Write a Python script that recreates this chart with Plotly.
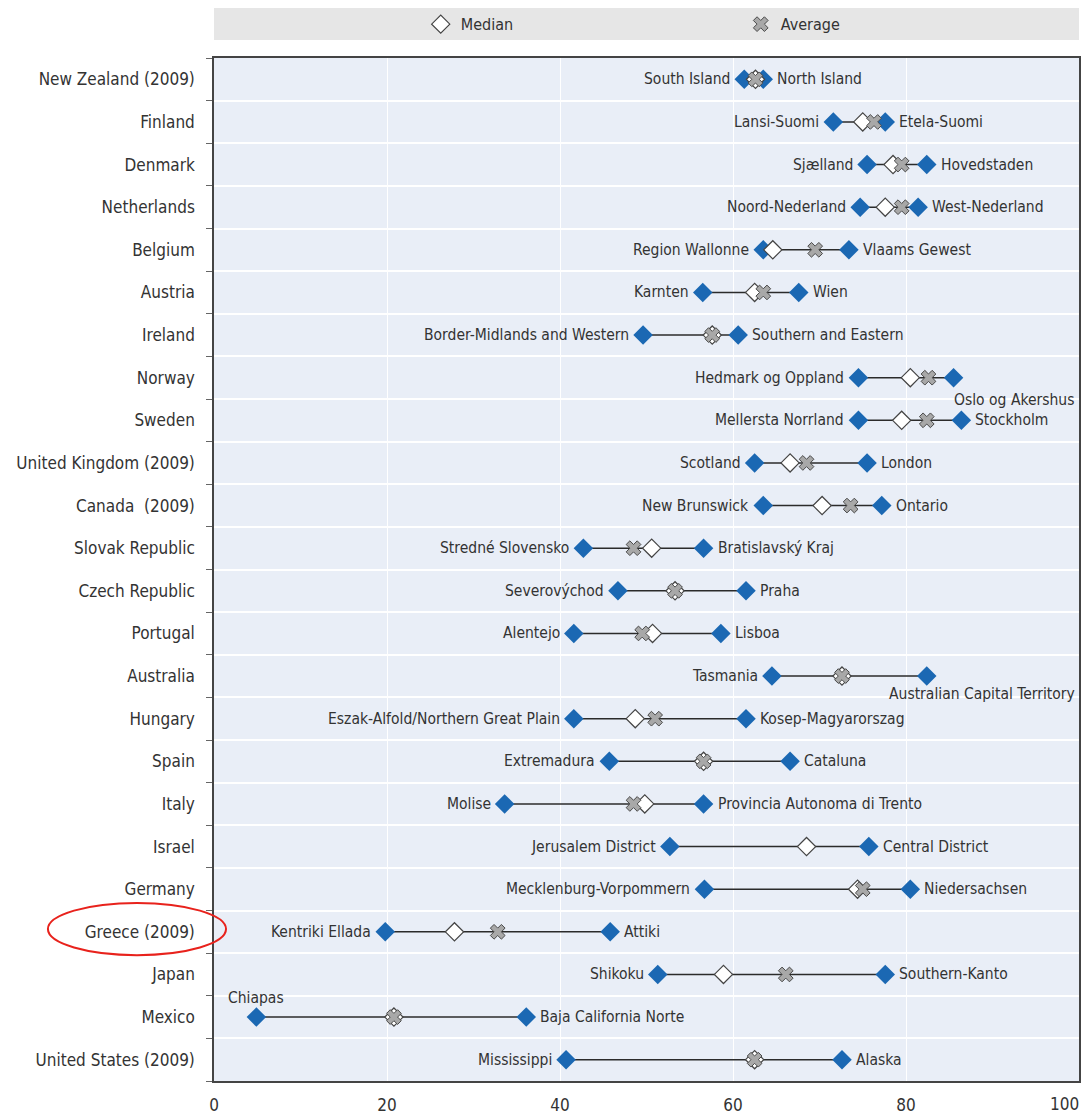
import plotly.graph_objects as go

countries = ["New Zealand (2009)", "Finland", "Denmark", "Netherlands", "Belgium", "Austria",
             "Ireland", "Norway", "Sweden", "United Kingdom (2009)", "Canada  (2009)",
             "Slovak Republic", "Czech Republic", "Portugal", "Australia", "Hungary", "Spain",
             "Italy", "Israel", "Germany", "Greece (2009)", "Japan", "Mexico", "United States (2009)"]
min_region = ["South Island", "Lansi-Suomi", "Sjælland", "Noord-Nederland", "Region Wallonne",
              "Karnten", "Border-Midlands and Western", "Hedmark og Oppland", "Mellersta Norrland",
              "Scotland", "New Brunswick", "Stredné Slovensko", "Severovýchod", "Alentejo",
              "Tasmania", "Eszak-Alfold/Northern Great Plain", "Extremadura", "Molise",
              "Jerusalem District", "Mecklenburg-Vorpommern", "Kentriki Ellada", "Shikoku",
              "Chiapas", "Mississippi"]
max_region = ["North Island", "Etela-Suomi", "Hovedstaden", "West-Nederland", "Vlaams Gewest",
              "Wien", "Southern and Eastern", "Oslo og Akershus", "Stockholm", "London", "Ontario",
              "Bratislavský Kraj", "Praha", "Lisboa", "Australian Capital Territory",
              "Kosep-Magyarorszag", "Cataluna", "Provincia Autonoma di Trento", "Central District",
              "Niedersachsen", "Attiki", "Southern-Kanto", "Baja California Norte", "Alaska"]
min_val = [61.3, 71.6, 75.5, 74.7, 63.5, 56.5, 49.6, 74.5, 74.5, 62.5, 63.5, 42.7, 46.7, 41.6,
           64.5, 41.6, 45.7, 33.6, 52.7, 56.7, 19.8, 51.3, 4.9, 40.7]
max_val = [63.5, 77.6, 82.4, 81.4, 73.4, 67.6, 60.6, 85.5, 86.4, 75.5, 77.2, 56.6, 61.5, 58.6,
           82.4, 61.5, 66.6, 56.6, 75.7, 80.5, 45.8, 77.6, 36.1, 72.6]
median_val = [62.6, 75.0, 78.5, 77.6, 64.6, 62.5, 57.6, 80.5, 79.5, 66.6, 70.3, 50.6, 53.3, 50.7,
              72.6, 48.7, 56.6, 49.8, 68.5, 74.4, 27.8, 58.9, 20.8, 62.5]
average_val = [62.6, 76.3, 79.5, 79.5, 69.5, 63.5, 57.6, 82.6, 82.4, 68.5, 73.6, 48.5, 53.3, 49.5,
               72.6, 51.0, 56.6, 48.5, None, 75.0, 32.8, 66.1, 20.8, 62.5]
x_ticks = [0, 20, 40, 60, 80, 100]

# label placement exceptions (style, not data)
special_max = {"Oslo og Akershus": dict(xshift=-2, yshift=-22),
               "Australian Capital Territory": dict(xshift=-40, yshift=-18)}
special_min = {"Chiapas": dict(xshift=0, yshift=19, xanchor="center")}

FONT = "Liberation Sans Narrow, DejaVu Sans Condensed, Arial Narrow, sans-serif"
BLUE = "#1b68b3"
yy = list(range(len(countries)))

fig = go.Figure()
lx, ly = [], []
for i in yy:
    lx += [min_val[i], max_val[i], None]
    ly += [i, i, None]
fig.add_trace(go.Scatter(x=lx, y=ly, mode="lines", line=dict(color="#2b2b2b", width=1.5),
                         showlegend=False, hoverinfo="skip"))
fig.add_trace(go.Scatter(x=min_val + max_val, y=yy + yy, mode="markers", showlegend=False,
                         marker=dict(symbol="diamond", size=15, color=BLUE,
                                     line=dict(color=BLUE, width=0))))
fig.add_trace(go.Scatter(x=median_val, y=yy, mode="markers", name="Median",
                         marker=dict(symbol="diamond", size=14, color="white",
                                     line=dict(color="#444444", width=1.2))))
fig.add_trace(go.Scatter(x=average_val, y=yy, mode="markers", name="Average",
                         marker=dict(symbol="x", size=13, color="#a8a8a8",
                                     line=dict(color="#4a4a4a", width=1))))

annotations = []
for i in yy:
    s = special_min.get(min_region[i], {})
    annotations.append(dict(x=min_val[i], y=i, text=min_region[i], showarrow=False,
                            xanchor=s.get("xanchor", "right"), xshift=s.get("xshift", -12),
                            yshift=s.get("yshift", 0), font=dict(family=FONT, size=15.5, color="#333")))
    s = special_max.get(max_region[i], {})
    annotations.append(dict(x=max_val[i], y=i, text=max_region[i], showarrow=False,
                            xanchor="left", xshift=s.get("xshift", 12),
                            yshift=s.get("yshift", 0), font=dict(family=FONT, size=15.5, color="#333")))
# last x tick label drawn right-aligned so it stays inside the page
annotations.append(dict(x=x_ticks[-1], y=0, yref="paper", yanchor="top", yshift=-11,
                        text=str(x_ticks[-1]), showarrow=False, xanchor="right", xshift=2,
                        font=dict(family=FONT, size=17, color="#333")))

shapes = [
    dict(type="rect", xref="paper", yref="paper", x0=0, x1=1, y0=1.0176, y1=1.0489,
         fillcolor="#e6e6e6", line=dict(width=0), layer="below"),
    dict(type="circle", xref="paper", yref="paper", x0=-0.192, x1=0.0139, y0=0.123, y1=0.174,
         line=dict(color="#e8221c", width=2)),
]

fig.update_layout(
    width=1082, height=1117,
    margin=dict(l=214, r=3, t=58, b=36, autoexpand=False),
    paper_bgcolor="white", plot_bgcolor="#e9eef7",
    font=dict(family=FONT, size=16, color="#333"),
    showlegend=True,
    legend=dict(orientation="h", x=0.239, xanchor="left", y=1.033, yanchor="middle",
                bgcolor="rgba(0,0,0,0)", entrywidth=275, entrywidthmode="pixels",
                font=dict(family=FONT, size=16, color="#333"), itemclick=False),
    annotations=annotations, shapes=shapes,
    xaxis=dict(range=[0, 100], tickvals=x_ticks[:-1], showgrid=True, gridcolor="white", gridwidth=1.2,
               zeroline=False, showline=True, linecolor="#444", linewidth=1.5, mirror=True,
               ticks="", automargin=False, ticklabelstandoff=8,
               tickfont=dict(family=FONT, size=17, color="#333")),
    yaxis=dict(range=[len(countries) - 0.5, -0.5], tickvals=yy, ticktext=countries,
               showgrid=False, zeroline=False, showline=True, linecolor="#444", linewidth=1.5,
               mirror=True, ticks="", ticklen=0, automargin=False, ticklabelstandoff=14,
               tickfont=dict(family=FONT, size=17, color="#333"),
               minor=dict(tick0=0.5, dtick=1, showgrid=True, gridcolor="white", gridwidth=1.5,
                          ticks="outside", ticklen=6, tickcolor="#666")),
)

fig.write_html("out.html", config={"displayModeBar": False},
               post_script="document.body.style.margin='0';document.body.style.overflow='hidden';")
